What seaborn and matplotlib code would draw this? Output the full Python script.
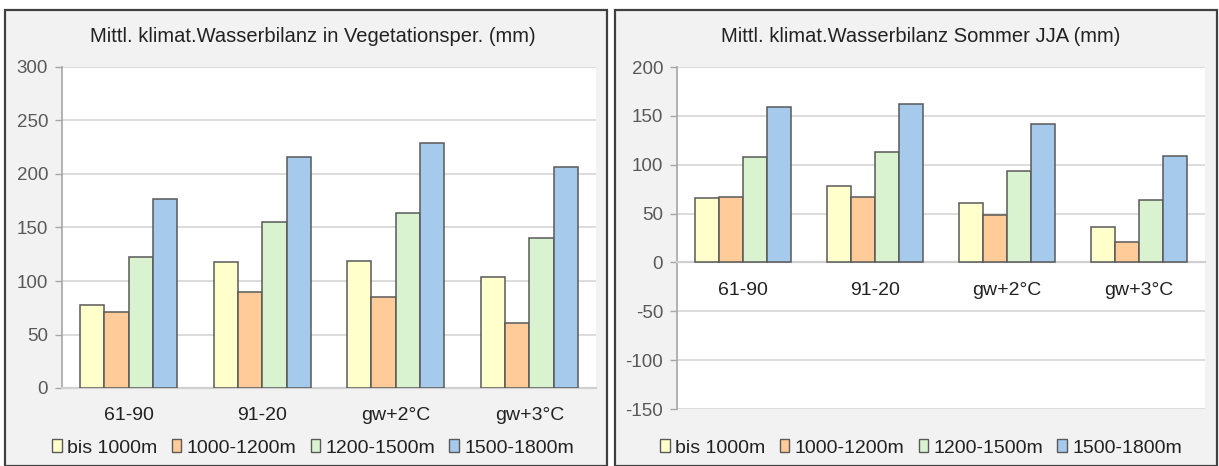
import matplotlib
matplotlib.use("Agg")
import matplotlib.pyplot as plt
import seaborn as sns
import pandas as pd
from matplotlib.patches import Rectangle

periods = ["61-90", "91-20", "gw+2°C", "gw+3°C"]
bands = ["bis 1000m", "1000-1200m", "1200-1500m", "1500-1800m"]

veg_bis1000 = [78, 118, 119, 104]
veg_1000_1200 = [71, 90, 85, 61]
veg_1200_1500 = [122, 155, 164, 140]
veg_1500_1800 = [177, 216, 229, 207]

jja_bis1000 = [66, 78, 61, 36]
jja_1000_1200 = [67, 67, 49, 21]
jja_1200_1500 = [108, 113, 94, 64]
jja_1500_1800 = [159, 162, 142, 109]

title_left = "Mittl. klimat.Wasserbilanz in Vegetationsper. (mm)"
title_right = "Mittl. klimat.Wasserbilanz Sommer JJA (mm)"

colors = ["#FFFFCC", "#FFCC99", "#D9F2D0", "#A6CAEC"]


def long_df(series):
    rows = []
    for band, vals in zip(bands, series):
        for p, v in zip(periods, vals):
            rows.append({"period": p, "band": band, "value": v})
    return pd.DataFrame(rows)


df_veg = long_df([veg_bis1000, veg_1000_1200, veg_1200_1500, veg_1500_1800])
df_jja = long_df([jja_bis1000, jja_1000_1200, jja_1200_1500, jja_1500_1800])

sns.set_theme(style="white")
plt.rcParams["font.family"] = ["Liberation Sans", "DejaVu Sans"]

W, H = 1219, 466
fig = plt.figure(figsize=(W / 100, H / 100), dpi=100)
fig.patch.set_facecolor("white")

# panel frames (pixel coords top-origin)
for (x0, x1) in [(5, 607), (615, 1217)]:
    fig.patches.append(Rectangle((x0 / W, 0), (x1 - x0) / W, (H - 10) / H,
                                 transform=fig.transFigure, facecolor="#F2F2F2",
                                 edgecolor="#404040", linewidth=1.6, zorder=-10))


def make_ax(px_left, px_right, px_top, px_bottom):
    return fig.add_axes([px_left / W, (H - px_bottom) / H,
                         (px_right - px_left) / W, (px_bottom - px_top) / H])


ax1 = make_ax(62, 596, 67, 388)
ax2 = make_ax(677, 1205, 67, 409)


def style(ax, df, ylim, yticks, title, title_cx):
    sns.barplot(data=df, x="period", y="value", hue="band", palette=colors,
                width=0.73, gap=0, edgecolor="#595959", linewidth=1.1,
                saturation=1, ax=ax, legend=False, zorder=3)
    ax.set_facecolor("white")
    ax.set_ylim(*ylim)
    ax.set_xlim(-0.5, 3.5)
    ax.set_yticks(yticks)
    ax.set_yticklabels([str(t) for t in yticks], color="#595959", fontsize=13.5)
    ax.yaxis.grid(True, color="#D9D9D9", linewidth=1.3, zorder=0)
    ax.set_axisbelow(True)
    ax.set_xlabel("")
    ax.set_ylabel("")
    for s in ["top", "right"]:
        ax.spines[s].set_visible(False)
    ax.spines["left"].set_color("#A6A6A6")
    ax.spines["left"].set_linewidth(1.2)
    ax.spines["bottom"].set_position(("data", 0))
    ax.spines["bottom"].set_color("#D0D0D0")
    ax.spines["bottom"].set_linewidth(1.6)
    ax.tick_params(axis="y", which="both", left=True, length=5, width=1.0,
                   color="#A6A6A6", pad=5)
    ax.tick_params(axis="x", bottom=False, labelsize=14, labelcolor="#222222", pad=8)
    fig.text(title_cx / W, 1 - 36 / H, title, ha="center", va="center",
             fontsize=14.5, color="#222222")
    handles = [Rectangle((0, 0), 1, 1, facecolor=c, edgecolor="#595959", linewidth=1.0)
               for c in colors]
    fig.legend(handles, bands, loc="center", ncol=4,
               bbox_to_anchor=(title_cx / W, 1 - 448 / H),
               frameon=False, fontsize=14, handlelength=0.5, handleheight=0.6,
               handletextpad=0.25, columnspacing=0.75,
               labelcolor="#222222")


style(ax1, df_veg, (0, 300), [0, 50, 100, 150, 200, 250, 300], title_left, 313)
style(ax2, df_jja, (-150, 200), [-150, -100, -50, 0, 50, 100, 150, 200], title_right, 921)

fig.savefig("out.png", dpi=100, facecolor=fig.get_facecolor())
